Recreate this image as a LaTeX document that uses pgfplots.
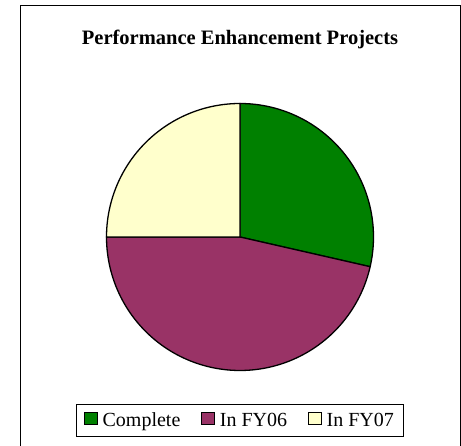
\documentclass[border=0pt]{standalone}
\usepackage{fontspec}
\setmainfont{Liberation Serif}
\usepackage{pgfplots}
\usepackage{pgfplotstable}
\pgfplotsset{compat=1.18}
\definecolor{cgreen}{RGB}{0,128,0}
\definecolor{cpurple}{RGB}{153,51,102}
\definecolor{cyellow}{RGB}{255,255,204}
\pgfplotstableread{
label value
Complete 8
FY06 13
FY07 7
}\piedata
\begin{document}
\begin{tikzpicture}[x=1pt,y=1pt]
\pgfplotstablegetelem{0}{value}\of\piedata \let\va\pgfplotsretval
\pgfplotstablegetelem{1}{value}\of\piedata \let\vb\pgfplotsretval
\pgfplotstablegetelem{2}{value}\of\piedata \let\vc\pgfplotsretval
\pgfmathsetmacro\total{\va+\vb+\vc}
\pgfmathsetmacro\aA{90-360*\va/\total}
\pgfmathsetmacro\aB{\aA-360*\vb/\total}
\pgfmathsetmacro\aC{\aB-360*\vc/\total}
\useasboundingbox (0,0) rectangle (461,446);
\draw[line width=0.9pt] (20.5,-5) -- (20.5,440.5) -- (460.5,440.5) -- (460.5,-5);
\begin{axis}[
  at={(240pt,209pt)}, anchor=center,
  scale only axis, width=267pt, height=267pt,
  xmin=-1, xmax=1, ymin=-1, ymax=1,
  hide axis, clip=false,
  title={Performance Enhancement Projects},
  title style={at={(0.5,1)}, anchor=base, yshift=52.5pt, font=\bfseries\fontsize{20.5}{24}\selectfont},
  legend columns=3,
  legend style={at={(0.5,0)}, anchor=center, yshift=-50pt, draw=black, line width=1pt,
    font=\fontsize{20}{24}\selectfont, inner xsep=8pt, inner ysep=6pt,
    /tikz/every odd column/.append style={column sep=3pt},
    /tikz/every even column/.append style={column sep=19pt},
    cells={anchor=west, inner xsep=0pt, inner ysep=0pt}},
  legend image code/.code={\draw[#1, line width=1pt] (0pt,-4.5pt) rectangle (12.5pt,8pt);},
]
\addplot[fill=cgreen, draw=black, line width=1.3pt, domain=\aA:90, samples=90] ({cos(x)},{sin(x)}) -- (0,0) -- cycle;
\addlegendentry{Complete}
\addplot[fill=cpurple, draw=black, line width=1.3pt, domain=\aB:\aA, samples=120] ({cos(x)},{sin(x)}) -- (0,0) -- cycle;
\addlegendentry{In FY06}
\addplot[fill=cyellow, draw=black, line width=1.3pt, domain=\aC:\aB, samples=90] ({cos(x)},{sin(x)}) -- (0,0) -- cycle;
\addlegendentry{In FY07}
\end{axis}
\end{tikzpicture}
\end{document}
